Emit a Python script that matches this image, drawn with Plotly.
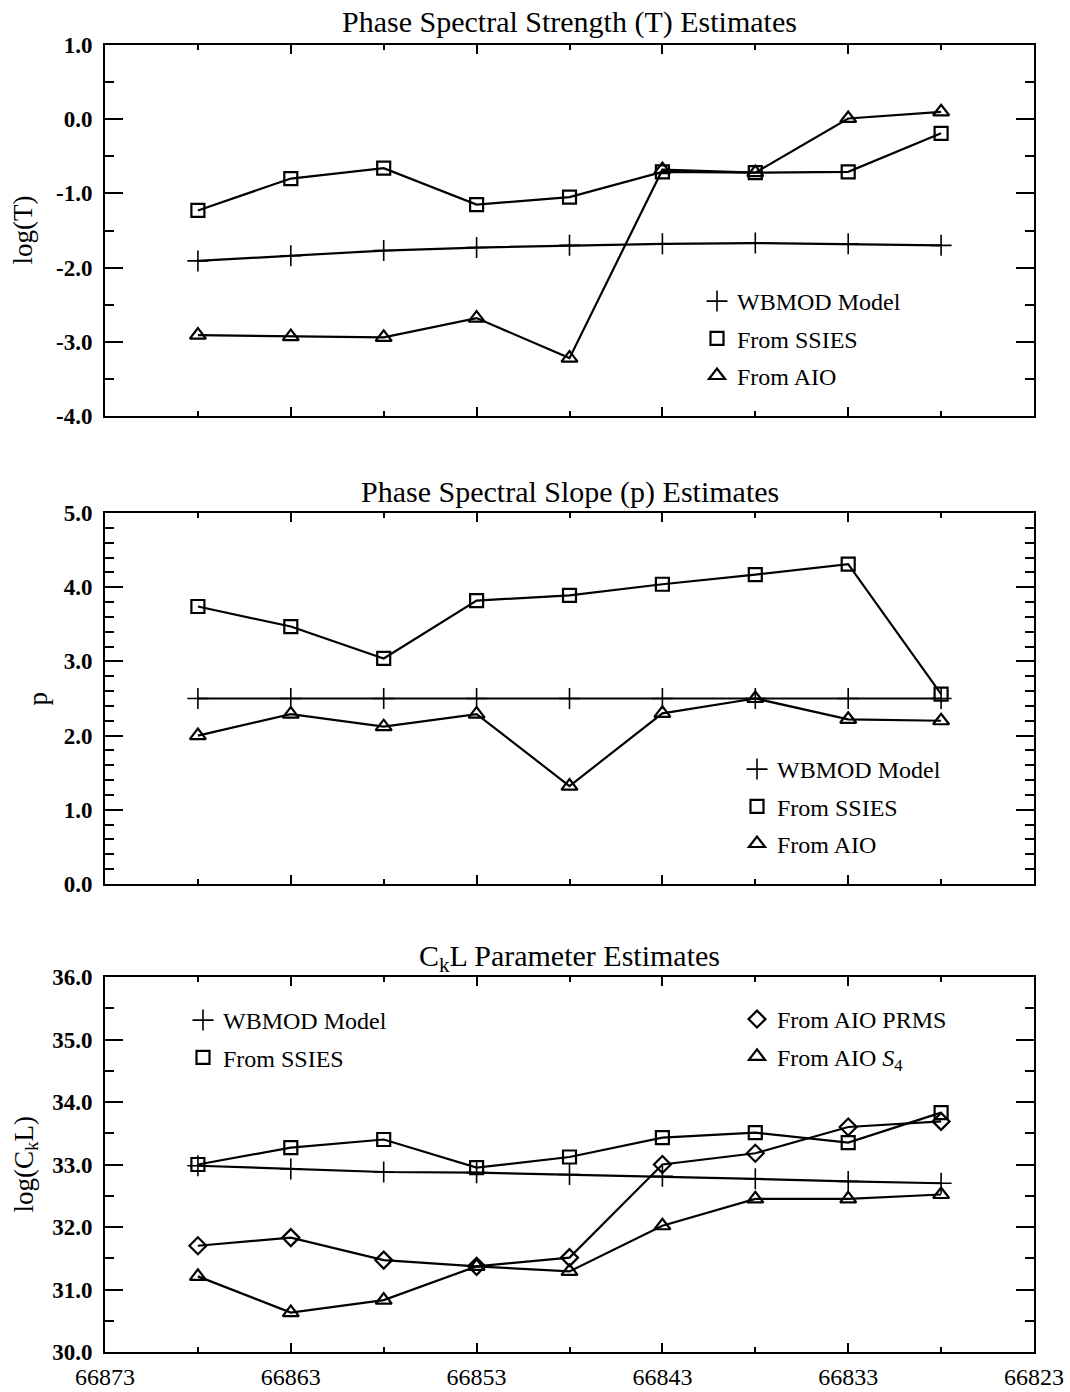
import plotly.graph_objects as go

# ---------------- data ----------------
orbit = [66868, 66863, 66858, 66853, 66848, 66843, 66838, 66833, 66828]

T_wbmod = [-1.91, -1.84, -1.77, -1.73, -1.70, -1.68, -1.67, -1.68, -1.70]
T_ssies = [-1.23, -0.80, -0.66, -1.15, -1.05, -0.71, -0.72, -0.71, -0.19]
T_aio = [-2.91, -2.93, -2.94, -2.68, -3.22, -0.68, -0.72, 0.01, 0.10]

p_wbmod = [2.5, 2.5, 2.5, 2.5, 2.5, 2.5, 2.5, 2.5, 2.5]
p_ssies = [3.74, 3.47, 3.04, 3.82, 3.89, 4.04, 4.17, 4.31, 2.56]
p_aio = [2.00, 2.29, 2.12, 2.29, 1.32, 2.30, 2.50, 2.22, 2.20]

ckl_wbmod = [32.98, 32.93, 32.88, 32.87, 32.84, 32.81, 32.77, 32.73, 32.70]
ckl_ssies = [33.00, 33.27, 33.40, 32.95, 33.12, 33.43, 33.51, 33.35, 33.83]
ckl_prms = [31.70, 31.83, 31.47, 31.37, 31.51, 33.00, 33.18, 33.60, 33.69]
ckl_s4 = [31.21, 30.63, 30.83, 31.37, 31.29, 32.02, 32.45, 32.45, 32.52]

x_ticks = [66873, 66863, 66853, 66843, 66833, 66823]
x_range = [66873, 66823]
y1_ticks = [1.0, 0.0, -1.0, -2.0, -3.0, -4.0]
y2_ticks = [5.0, 4.0, 3.0, 2.0, 1.0, 0.0]
y3_ticks = [36.0, 35.0, 34.0, 33.0, 32.0, 31.0, 30.0]

titles = ["Phase Spectral Strength (T) Estimates",
          "Phase Spectral Slope (p) Estimates",
          "C<sub>k</sub>L Parameter Estimates"]
ytitles = ["log(T)", "p", "log(C<sub>k</sub>L)"]

# ---------------- styling ----------------
W, H = 1070, 1392
FONT = "Liberation Serif"
BLACK = "black"
x_dom = [105 / W, 1034 / W]
y_doms = [[1 - 416 / H, 1 - 45 / H],
          [1 - 884 / H, 1 - 513 / H],
          [1 - 1352 / H, 1 - 977 / H]]

sym = {
    "plus": dict(symbol="cross-thin-open", size=15, line=dict(color=BLACK, width=1.6), color=BLACK),
    "square": dict(symbol="square-open", size=13, line=dict(color=BLACK, width=2.2), color=BLACK),
    "tri": dict(symbol="triangle-up-open", size=14, line=dict(color=BLACK, width=2.2), color=BLACK),
    "diam": dict(symbol="diamond-open", size=13, line=dict(color=BLACK, width=2.2), color=BLACK),
}

fig = go.Figure()


def add_series(y, mk, n, name, legend, group):
    xa = "x" if n == 1 else f"x{n}"
    ya = "y" if n == 1 else f"y{n}"
    fig.add_trace(go.Scatter(x=orbit, y=y, mode="lines+markers", xaxis=xa, yaxis=ya,
                             line=dict(color=BLACK, width=2.2), marker=sym[mk],
                             showlegend=False, hoverinfo="x+y"))
    fig.add_trace(go.Scatter(x=[None], y=[None], mode="markers", xaxis=xa, yaxis=ya,
                             marker=sym[mk], name=name, legend=legend,
                             legendgroup=group, showlegend=True))


add_series(T_wbmod, "plus", 1, "WBMOD Model", "legend", "a1")
add_series(T_ssies, "square", 1, "From SSIES", "legend", "a2")
add_series(T_aio, "tri", 1, "From AIO", "legend", "a3")

add_series(p_wbmod, "plus", 2, "WBMOD Model", "legend2", "b1")
add_series(p_ssies, "square", 2, "From SSIES", "legend2", "b2")
add_series(p_aio, "tri", 2, "From AIO", "legend2", "b3")

add_series(ckl_wbmod, "plus", 3, "WBMOD Model", "legend3", "c1")
add_series(ckl_ssies, "square", 3, "From SSIES", "legend3", "c2")
add_series(ckl_prms, "diam", 3, "From AIO PRMS", "legend4", "c3")
add_series(ckl_s4, "tri", 3, "From AIO <i>S</i><sub>4</sub>", "legend4", "c4")

tickfont = dict(family=FONT, size=23, color=BLACK, weight="bold")

for i in range(3):
    n = i + 1
    xk = "xaxis" if n == 1 else f"xaxis{n}"
    yk = "yaxis" if n == 1 else f"yaxis{n}"
    ya = "y" if n == 1 else f"y{n}"
    xa = "x" if n == 1 else f"x{n}"
    fig.layout[xk] = dict(
        domain=x_dom, anchor=ya, range=x_range, automargin=False,
        tickmode="array", tickvals=x_ticks, ticktext=[str(v) for v in x_ticks],
        showticklabels=(n == 3), ticks="inside", ticklen=9, tickwidth=1.5, tickcolor=BLACK,
        minor=dict(dtick=5, tick0=66873, ticks="inside", ticklen=5, tickwidth=1.5, tickcolor=BLACK),
        showline=True, linewidth=2, linecolor=BLACK, mirror="ticks",
        showgrid=False, zeroline=False, tickfont=dict(family=FONT, size=24, color=BLACK),
        ticklabelstandoff=2,
    )
    yt = [y1_ticks, y2_ticks, y3_ticks][i]
    yr = [[-4, 1], [0, 5], [30, 36]][i]
    mdt = [0.5, 0.2, 0.5][i]
    fig.layout[yk] = dict(
        domain=y_doms[i], anchor=xa, range=yr, automargin=False,
        tickmode="array", tickvals=yt, ticktext=[f"{v:.1f}" for v in yt],
        ticks="inside", ticklen=18, tickwidth=1.8, tickcolor=BLACK,
        minor=dict(dtick=mdt, tick0=yr[0], ticks="inside", ticklen=9, tickwidth=1.5, tickcolor=BLACK),
        showline=True, linewidth=2, linecolor=BLACK, mirror="ticks",
        showgrid=False, zeroline=False, tickfont=tickfont, ticklabelstandoff=6,
    )

# titles and y-axis labels as annotations
title_y = [22, 492, 958]
ytitle_x = [22, 37, 25]
for i in range(3):
    fig.add_annotation(text=titles[i], xref="paper", yref="paper",
                       x=(x_dom[0] + x_dom[1]) / 2, y=1 - title_y[i] / H,
                       xanchor="center", yanchor="middle", showarrow=False,
                       font=dict(family=FONT, size=30, color=BLACK))
    yc = (y_doms[i][0] + y_doms[i][1]) / 2
    fig.add_annotation(text=ytitles[i], xref="paper", yref="paper",
                       x=ytitle_x[i] / W, y=yc, textangle=-90,
                       xanchor="center", yanchor="middle", showarrow=False,
                       font=dict(family=FONT, size=27, color=BLACK))

legfont = dict(family=FONT, size=24, color=BLACK)
common_leg = dict(font=legfont, bgcolor="rgba(0,0,0,0)", borderwidth=0,
                  tracegroupgap=3, xanchor="left", yanchor="top", itemsizing="trace")
fig.update_layout(
    legend=dict(x=697 / W, y=1 - 279 / H, **common_leg),
    legend2=dict(x=737 / W, y=1 - 747 / H, **common_leg),
    legend3=dict(x=183 / W, y=1 - 998 / H, **common_leg),
    legend4=dict(x=737 / W, y=1 - 997 / H, **common_leg),
)

fig.update_layout(width=W, height=H, margin=dict(l=0, r=0, t=0, b=0, autoexpand=False),
                  paper_bgcolor="white", plot_bgcolor="white",
                  font=dict(family=FONT, color=BLACK))

fig.write_html("out.html", config={"displayModeBar": False},
               post_script="document.body.style.margin='0';document.body.style.overflow='hidden';")
